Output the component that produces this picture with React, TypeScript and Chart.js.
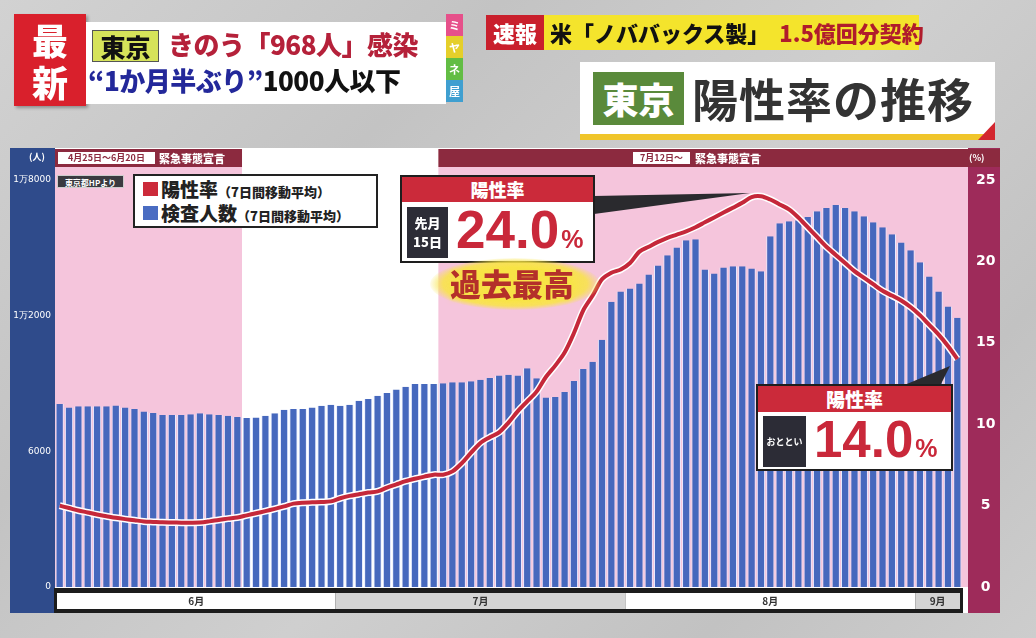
import React, { useEffect, useRef } from "react";
import { Chart, registerables } from "chart.js";

Chart.register(...registerables);

const monthNames = ["6月", "7月", "8月", "9月"];
const monthNumbers = [6, 7, 8, 9];
const monthDayCounts = [30, 31, 31, 5];

const dayLabels: string[] = [];
monthNumbers.forEach((m, k) => {
  for (let d = 1; d <= monthDayCounts[k]; d++) dayLabels.push(`${m}/${d}`);
});

// 検査人数（7日間移動平均） 6/1 - 9/5
const testCounts = [
  8090, 7940, 7990, 7990, 7990, 7990, 8030, 7940, 7870, 7760,
  7690, 7610, 7610, 7610, 7640, 7680, 7640, 7610, 7570, 7520,
  7470, 7500, 7570, 7680, 7840, 7870, 7870, 7940, 8015, 8060,
  8015, 8060, 8240, 8310, 8460, 8580, 8730, 8860, 8980, 8980,
  8980, 9010, 9050, 9050, 9100, 9170, 9240, 9350, 9390, 9350,
  9670, 9230, 8385, 8400, 8620, 9110, 9640, 9960, 10930, 12620,
  13070, 13200, 13420, 13820, 14220, 14670, 15020, 15330, 15380, 14040,
  13870, 14130, 14180, 14180, 14090, 13960, 15510, 16090, 16180, 16220,
  16360, 16620, 16760, 16890, 16760, 16620, 16400, 16130, 15910, 15600,
  15240, 14890, 14360, 13730, 13070, 12400, 11910,
];

// 陽性率（7日間移動平均） %
const positivityRate = [
  5.0, 4.85, 4.7, 4.58, 4.45, 4.35, 4.25, 4.17, 4.1, 4.03,
  4.0, 3.97, 3.96, 3.95, 3.95, 3.96, 4.03, 4.12, 4.2, 4.27,
  4.4, 4.53, 4.66, 4.8, 4.95, 5.12, 5.18, 5.2, 5.22, 5.26,
  5.45, 5.6, 5.7, 5.8, 5.87, 6.1, 6.3, 6.5, 6.65, 6.78,
  6.9, 6.9, 7.1, 7.6, 8.25, 8.85, 9.2, 9.5, 10.1, 10.8,
  11.4, 12.0, 12.9, 13.6, 14.4, 15.6, 17.0, 17.9, 18.9, 19.3,
  19.5, 19.9, 20.6, 20.9, 21.2, 21.45, 21.65, 21.85, 22.1, 22.4,
  22.7, 23.0, 23.3, 23.6, 23.95, 24.0, 23.8, 23.5, 23.2, 22.7,
  22.1, 21.5, 20.9, 20.4, 19.9, 19.4, 19.0, 18.6, 18.2, 17.9,
  17.6, 17.2, 16.7, 16.1, 15.5, 14.8, 14.0,
];

const leftTickValues = [0, 6000, 12000, 18000];
const leftTickLabels = ["0", "6000", "1万2000", "1万8000"];

// emergency declaration periods, as day-index ranges [start, end)
const emergencyRanges: [number, number][] = [
  [0, 20],
  [41, 97],
];

const JP = "'Noto Sans CJK JP', 'Noto Sans', sans-serif";
const NUM = "'Liberation Sans', Arial, sans-serif";

const panelPlugin = {
  id: "panelBg",
  beforeDraw(chart: any) {
    const { ctx, chartArea: ca } = chart;
    const n = dayLabels.length;
    const pitch = (ca.right - ca.left) / n;
    const edge = (i: number) => ca.left + i * pitch;
    const panelTop = 148;
    const panelBottom = 613;
    const plotRight = ca.right + 6;
    ctx.save();
    ctx.fillStyle = "#ffffff";
    ctx.fillRect(ca.left, panelTop, plotRight - ca.left, panelBottom - panelTop);
    ctx.fillStyle = "#2f4b8b";
    ctx.fillRect(10, panelTop, ca.left - 10, panelBottom - panelTop);
    ctx.fillStyle = "#9e2b5a";
    ctx.fillRect(plotRight, panelTop, 1000 - plotRight, panelBottom - panelTop);
    emergencyRanges.forEach(([s, e]) => {
      const x0 = edge(s);
      const x1 = e >= n ? plotRight : edge(e);
      ctx.fillStyle = "#f5c5dc";
      ctx.fillRect(x0, 167, x1 - x0, ca.bottom - 167);
      ctx.fillStyle = "#8c2a3f";
      ctx.fillRect(x0, 149, (e >= n ? 1000 : x1) - x0, 18);
    });
    ctx.fillStyle = "#1c1c1c";
    ctx.fillRect(ca.left - 1, ca.bottom + 1, ca.right - ca.left + 2, panelBottom - ca.bottom - 1);
    let start = 0;
    monthDayCounts.forEach((cnt, k) => {
      const x0 = edge(start) + (k === 0 ? 2 : 0);
      const x1 = edge(start + cnt) - (k === monthDayCounts.length - 1 ? 2 : 0);
      ctx.fillStyle = k % 2 === 0 ? "#ffffff" : "#d4d4d4";
      ctx.fillRect(x0, 593, x1 - x0, 16);
      ctx.fillStyle = "#333333";
      ctx.font = `bold 10px ${JP}`;
      ctx.textAlign = "center";
      ctx.textBaseline = "middle";
      ctx.fillText(monthNames[k], (x0 + x1) / 2, 601.5);
      start += cnt;
    });
    // left axis tick labels
    const yL = chart.scales.yL;
    ctx.fillStyle = "#ffffff";
    ctx.font = `9px 'DejaVu Sans', sans-serif`;
    ctx.textAlign = "right";
    ctx.textBaseline = "middle";
    leftTickValues.forEach((v, k) => {
      ctx.fillText(leftTickLabels[k], ca.left - 4, yL.getPixelForValue(v));
    });
    ctx.restore();
  },
};

export default function App() {
  const canvasRef = useRef<HTMLCanvasElement | null>(null);

  useEffect(() => {
    const canvas = canvasRef.current;
    if (!canvas) return;
    const chart = new Chart(canvas, {
      data: {
        labels: dayLabels,
        datasets: [
          {
            type: "line",
            label: "陽性率",
            data: positivityRate,
            yAxisID: "yR",
            borderColor: "#c5283a",
            borderWidth: 4,
            pointRadius: 0,
            tension: 0.3,
            order: 0,
          } as any,
          {
            type: "line",
            label: "outline",
            data: positivityRate,
            yAxisID: "yR",
            borderColor: "#ffffff",
            borderWidth: 7,
            pointRadius: 0,
            tension: 0.3,
            order: 1,
          } as any,
          {
            type: "bar",
            label: "検査人数",
            data: testCounts,
            yAxisID: "yL",
            backgroundColor: "#4668bd",
            borderColor: "rgba(232,236,255,0.95)",
            borderWidth: { left: 1, right: 1, top: 0, bottom: 0 },
            borderSkipped: false,
            barPercentage: 0.88,
            categoryPercentage: 1,
            order: 2,
          } as any,
        ],
      },
      options: {
        responsive: false,
        animation: false,
        layout: { padding: { left: 10, right: 36, top: 180, bottom: 51 } },
        plugins: { legend: { display: false }, tooltip: { enabled: false } },
        scales: {
          x: { display: false, offset: true, grid: { display: false } },
          yL: {
            position: "left",
            min: 0,
            max: 18000,
            afterFit: (s: any) => {
              s.width = 45;
            },
            ticks: { display: false, stepSize: 6000 },
            grid: { display: false },
            border: { display: false },
          },
          yR: {
            position: "right",
            min: 0,
            max: 25,
            afterFit: (s: any) => {
              s.width = 38;
            },
            ticks: {
              stepSize: 5,
              color: "#ffffff",
              crossAlign: "center",
              padding: 6,
              font: { family: "'DejaVu Sans', sans-serif", size: 14, weight: "bold" },
            },
            grid: { display: false },
            border: { display: false },
          },
        },
      } as any,
      plugins: [panelPlugin],
    });
    return () => chart.destroy();
  }, []);

  const abs = (l: number, t: number, w?: number, h?: number): React.CSSProperties => ({
    position: "absolute",
    left: l,
    top: t,
    ...(w !== undefined ? { width: w } : {}),
    ...(h !== undefined ? { height: h } : {}),
  });

  return (
    <div
      style={{
        position: "absolute",
        left: 0,
        top: 0,
        width: 1036,
        height: 638,
        overflow: "hidden",
        fontFamily: JP,
        background:
          "linear-gradient(135deg, #d2d2d2 0%, #c3c3c3 30%, #cfcfcf 55%, #c2c2c2 80%, #cdcdcd 100%)",
      }}
    >
      <canvas ref={canvasRef} width={1036} height={638} style={{ position: "absolute", left: 0, top: 0, width: 1036, height: 638 }} />

      <svg width={1036} height={638} style={{ position: "absolute", left: 0, top: 0, pointerEvents: "none" }}>
        <polygon points="594,196 594,214 750,193" fill="#2a2a2e" />
        <polygon points="902,386 940,386 950,366" fill="#2a2a2e" />
      </svg>

      <div style={{ ...abs(14, 14, 72, 92), background: "#d9202c", color: "#fff", fontWeight: 900, fontSize: 36, lineHeight: "42px", textAlign: "center", paddingTop: 4, boxSizing: "border-box", boxShadow: "2px 2px 3px rgba(0,0,0,0.3)" }}>
        <div>最</div>
        <div>新</div>
      </div>
      <div style={{ ...abs(86, 22, 360, 82), background: "#ffffff" }} />
      <div style={{ ...abs(92, 30, 67, 32), background: "#d6e35a", border: "1px solid #555", boxSizing: "border-box", fontWeight: 900, fontSize: 25, lineHeight: "30px", textAlign: "center", color: "#111" }}>東京</div>
      <div style={{ ...abs(168, 26), fontWeight: 900, fontSize: 26, lineHeight: "36px", color: "#b5213a", whiteSpace: "nowrap", letterSpacing: -0.5 }}>きのう「968人」感染</div>
      <div style={{ ...abs(88, 62), fontWeight: 900, fontSize: 26, lineHeight: "36px", whiteSpace: "nowrap", letterSpacing: -0.5 }}>
        <span style={{ color: "#23289a" }}>“1か月半ぶり”</span>
        <span style={{ color: "#111" }}>1000人以下</span>
      </div>
      <div style={{ ...abs(446, 14, 17, 88), display: "flex", flexDirection: "column", fontSize: 11, color: "#fff", fontWeight: 700, textAlign: "center", lineHeight: "22px" }}>
        <div style={{ background: "#e6508a", height: 22 }}>ミ</div>
        <div style={{ background: "#e5cf2a", height: 22 }}>ヤ</div>
        <div style={{ background: "#62bd44", height: 22 }}>ネ</div>
        <div style={{ background: "#3f9fd0", height: 22 }}>屋</div>
      </div>

      <div style={{ ...abs(486, 15, 58, 35), background: "#c91f2c", color: "#fff", fontWeight: 900, fontSize: 22, lineHeight: "35px", textAlign: "center" }}>速報</div>
      <div style={{ ...abs(544, 15, 375, 35), background: "#f4e42c", fontWeight: 900, fontSize: 22, lineHeight: "35px", whiteSpace: "nowrap", paddingLeft: 6, boxSizing: "border-box" }}>
        <span style={{ color: "#111" }}>米「ノババックス製」</span>
        <span style={{ color: "#b01c2c", marginLeft: 10 }}>1.5億回分契約</span>
      </div>

      <div style={{ ...abs(580, 62, 415, 78), background: "#ffffff", borderBottom: "6px solid #f0c52a", boxSizing: "border-box" }} />
      <svg width={20} height={20} style={{ position: "absolute", left: 978, top: 122 }}>
        <polygon points="17,0 17,18 0,18" fill="#d3262f" />
      </svg>
      <div style={{ ...abs(593, 72, 91, 53), background: "#5a8a3b", color: "#fff", fontWeight: 900, fontSize: 36, lineHeight: "53px", textAlign: "center" }}>東京</div>
      <div style={{ ...abs(692, 66), fontWeight: 700, fontSize: 46, lineHeight: "62px", color: "#333", whiteSpace: "nowrap", letterSpacing: 1 }}>陽性率の推移</div>

      <div style={{ ...abs(58, 152, 97, 12), background: "#fff", color: "#8c2a3f", fontSize: 9, lineHeight: "12px", fontWeight: 700, textAlign: "center", whiteSpace: "nowrap" }}>4月25日～6月20日</div>
      <div style={{ ...abs(159, 150), color: "#fff", fontSize: 11, lineHeight: "16px", fontWeight: 900, whiteSpace: "nowrap" }}>緊急事態宣言</div>
      <div style={{ ...abs(633, 152, 57, 12), background: "#fff", color: "#8c2a3f", fontSize: 9, lineHeight: "12px", fontWeight: 700, textAlign: "center", whiteSpace: "nowrap" }}>7月12日～</div>
      <div style={{ ...abs(695, 150), color: "#fff", fontSize: 11, lineHeight: "16px", fontWeight: 900, whiteSpace: "nowrap" }}>緊急事態宣言</div>
      <div style={{ ...abs(29, 151), color: "#fff", fontSize: 9, lineHeight: "12px", fontWeight: 700 }}>(人)</div>
      <div style={{ ...abs(969, 152), color: "#fff", fontSize: 9, lineHeight: "12px", fontWeight: 700 }}>(%)</div>
      <div style={{ ...abs(57, 175, 67, 13), background: "#3a3a40", color: "#fff", fontSize: 8, lineHeight: "13px", fontWeight: 700, textAlign: "center", whiteSpace: "nowrap", border: "1px solid #ccc", boxSizing: "border-box" }}>東京都HPより</div>

      <div style={{ ...abs(133, 174, 245, 54), background: "#fff", border: "2px solid #222", boxSizing: "border-box" }}>
        <div style={{ position: "absolute", left: 8, top: 6, width: 15, height: 14, background: "#cc2a3a" }} />
        <div style={{ position: "absolute", left: 26, top: 1, whiteSpace: "nowrap", fontWeight: 900, color: "#222", lineHeight: "24px" }}>
          <span style={{ fontSize: 19 }}>陽性率</span>
          <span style={{ fontSize: 13 }}>（7日間移動平均）</span>
        </div>
        <div style={{ position: "absolute", left: 8, top: 30, width: 15, height: 14, background: "#4a6cc2" }} />
        <div style={{ position: "absolute", left: 26, top: 25, whiteSpace: "nowrap", fontWeight: 900, color: "#222", lineHeight: "24px" }}>
          <span style={{ fontSize: 19 }}>検査人数</span>
          <span style={{ fontSize: 13 }}>（7日間移動平均）</span>
        </div>
      </div>

      <div style={{ ...abs(400, 175, 195, 88), background: "#fff", border: "2px solid #1e1e1e", boxSizing: "border-box" }}>
        <div style={{ height: 25, background: "#cb2a3a", color: "#fff", fontWeight: 900, fontSize: 18, lineHeight: "25px", textAlign: "center" }}>陽性率</div>
        <div style={{ position: "absolute", left: 5, top: 30, width: 41, height: 51, background: "#2c2c36", color: "#fff", fontWeight: 900, fontSize: 13, lineHeight: "19px", textAlign: "center", paddingTop: 6, boxSizing: "border-box" }}>
          <div>先月</div>
          <div>15日</div>
        </div>
        <div style={{ position: "absolute", left: 54, top: 22, whiteSpace: "nowrap", color: "#c9283a", fontFamily: NUM, fontWeight: 700, lineHeight: "62px" }}>
          <span style={{ fontSize: 53 }}>24.0</span>
          <span style={{ fontSize: 25, marginLeft: 2 }}>%</span>
        </div>
      </div>

      <div style={{ ...abs(430, 258, 170, 52), borderRadius: "50%", background: "radial-gradient(ellipse at center, rgba(248,228,70,1) 45%, rgba(248,228,70,0.85) 60%, rgba(248,228,70,0) 72%)" }} />
      <div style={{ ...abs(450, 262), fontWeight: 900, fontSize: 31, lineHeight: "42px", color: "#b4302a", whiteSpace: "nowrap", textShadow: "0 0 3px #f6e24a, 0 0 6px #f6e24a" }}>過去最高</div>

      <div style={{ ...abs(756, 384, 197, 87), background: "#fff", border: "2px solid #1e1e1e", boxSizing: "border-box" }}>
        <div style={{ height: 26, background: "#cb2a3a", color: "#fff", fontWeight: 900, fontSize: 19, lineHeight: "26px", textAlign: "center" }}>陽性率</div>
        <div style={{ position: "absolute", left: 5, top: 30, width: 43, height: 51, background: "#2c2c36", color: "#fff", fontWeight: 700, fontSize: 9, lineHeight: "51px", textAlign: "center", whiteSpace: "nowrap" }}>おととい</div>
        <div style={{ position: "absolute", left: 56, top: 24, whiteSpace: "nowrap", color: "#c9283a", fontFamily: NUM, fontWeight: 700, lineHeight: "60px" }}>
          <span style={{ fontSize: 51 }}>14.0</span>
          <span style={{ fontSize: 25, marginLeft: 2 }}>%</span>
        </div>
      </div>
    </div>
  );
}
